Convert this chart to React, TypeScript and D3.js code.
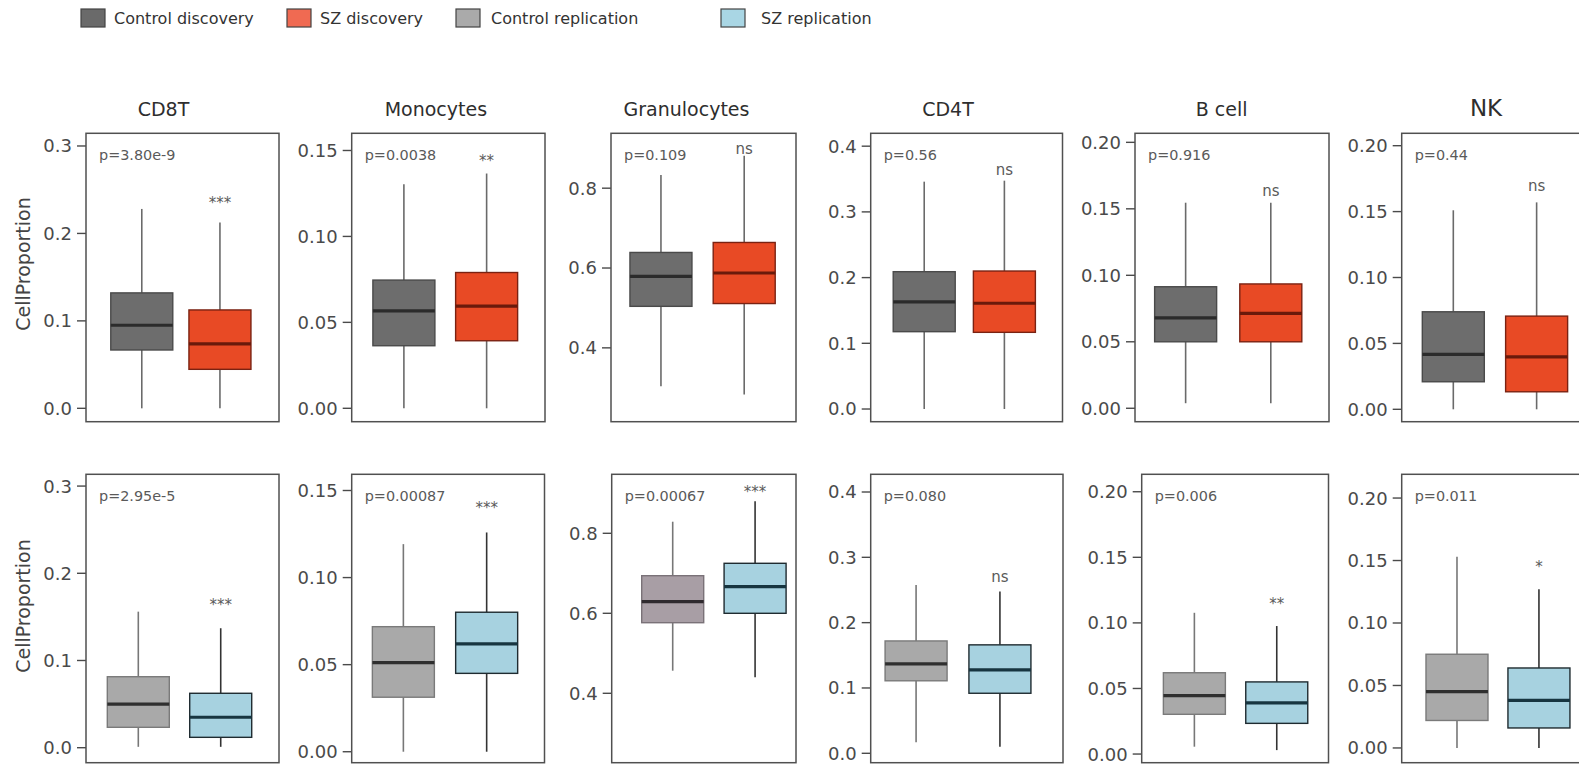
import React from "react";
import * as d3 from "d3";

// ---------- data ----------
const cellTypes = ["CD8T", "Monocytes", "Granulocytes", "CD4T", "B cell", "NK"];
const groups = ["Control", "SZ"];
const legendLabels = ["Control discovery", "SZ discovery", "Control replication", "SZ replication"];

// box stats: [lower whisker, Q1, median, Q3, upper whisker]
const discControl = [
  [0, 0.0667, 0.095, 0.132, 0.228],
  [0, 0.0364, 0.0567, 0.0746, 0.1304],
  [0.304, 0.504, 0.579, 0.639, 0.833],
  [0, 0.1177, 0.163, 0.209, 0.346],
  [0.0038, 0.05, 0.068, 0.0914, 0.1546],
  [0, 0.0209, 0.0417, 0.074, 0.151],
];
const discSZ = [
  [0, 0.0446, 0.0736, 0.1125, 0.2124],
  [0, 0.0393, 0.0595, 0.079, 0.1366],
  [0.283, 0.511, 0.5875, 0.664, 0.881],
  [0, 0.1167, 0.161, 0.21, 0.3475],
  [0.0038, 0.05, 0.0714, 0.0935, 0.1546],
  [0, 0.0133, 0.0398, 0.0707, 0.157],
];
const repControl = [
  [0.001, 0.0234, 0.05, 0.0814, 0.156],
  [0, 0.0313, 0.0512, 0.0718, 0.1192],
  [0.4565, 0.5765, 0.629, 0.694, 0.829],
  [0.0168, 0.111, 0.1368, 0.172, 0.2577],
  [0.0056, 0.0303, 0.0445, 0.062, 0.1077],
  [0, 0.022, 0.045, 0.075, 0.153],
];
const repSZ = [
  [0.001, 0.0119, 0.0349, 0.0624, 0.137],
  [0, 0.045, 0.0619, 0.0801, 0.1259],
  [0.44, 0.6, 0.6665, 0.725, 0.88],
  [0.0102, 0.0919, 0.1276, 0.166, 0.2475],
  [0.003, 0.0234, 0.039, 0.055, 0.0976],
  [0, 0.016, 0.038, 0.064, 0.127],
];

const discP = ["p=3.80e-9", "p=0.0038", "p=0.109", "p=0.56", "p=0.916", "p=0.44"];
const repP = ["p=2.95e-5", "p=0.00087", "p=0.00067", "p=0.080", "p=0.006", "p=0.011"];
const discSig = ["***", "**", "ns", "ns", "ns", "ns"];
const repSig = ["***", "***", "***", "ns", "**", "*"];
const discSigY = [0.235, 0.144, 0.9, 0.364, 0.164, 0.17];
const repSigY = [0.164, 0.14, 0.904, 0.27, 0.115, 0.145];

const discDomain = [
  [-0.0153, 0.3145], [-0.0078, 0.16], [0.215, 0.9375], [-0.0193, 0.4196], [-0.0101, 0.2068], [-0.0094, 0.2094],
];
const repDomain = [
  [-0.0172, 0.3135], [-0.0063, 0.1593], [0.2265, 0.9475], [-0.0144, 0.4271], [-0.0066, 0.2133], [-0.0118, 0.219],
];
const tickValues = [
  [0, 0.1, 0.2, 0.3],
  [0, 0.05, 0.1, 0.15],
  [0.4, 0.6, 0.8],
  [0, 0.1, 0.2, 0.3, 0.4],
  [0, 0.05, 0.1, 0.15, 0.2],
  [0, 0.05, 0.1, 0.15, 0.2],
];
const tickFormats = [".1f", ".2f", ".1f", ".1f", ".2f", ".2f"];

// ---------- layout ----------
const FONT = "'DejaVu Sans', sans-serif";
const rowTop = [133.3, 474.3];
const rowBottom = [421.7, 762.7];
const panelX = [
  [[86, 279], [351.7, 545], [611, 796], [870.7, 1062.5], [1135, 1329], [1401.7, 1595]],
  [[86, 279], [351.7, 544.5], [611.7, 796], [870.7, 1063], [1141.7, 1328.5], [1401.7, 1595]],
];
const boxFrac = [
  [[0.289, 0.694], [0.27, 0.698], [0.27, 0.72], [0.279, 0.697], [0.261, 0.7], [0.267, 0.698]],
  [[0.271, 0.698], [0.268, 0.7], [0.331, 0.778], [0.236, 0.672], [0.282, 0.723], [0.286, 0.71]],
];
const titleDx = [-19, -12.5, -17, -18.6, -10.3, -12.3];
const BOXW = 62;

const styles = {
  discControl: { fill: "#6d6d6d", stroke: "#4a4a4a", median: "#2b2b2b", whisker: "#6a6a6a" },
  discSZ: { fill: "#e84a25", stroke: "#7a2212", median: "#6a1a0b", whisker: "#6a6a6a" },
  repControl: { fill: "#a9a9a9", stroke: "#7a7a7a", median: "#2f2f2f", whisker: "#777777" },
  repControlAlt: { fill: "#a89ea5", stroke: "#7a7278", median: "#2f2a2e", whisker: "#777777" },
  repSZ: { fill: "#a7d2e0", stroke: "#1f2b30", median: "#173540", whisker: "#333333" },
};
const legendFills = ["#6a6a6a", "#f06a52", "#aaaaaa", "#a9d6e4"];
const legendX = [81, 287, 456, 721];
const legendTextDx = [33, 33, 35, 40];

function Box({ x, y, s, st }) {
  const [lo, q1, med, q3, hi] = s;
  return (
    <g>
      <line x1={x} x2={x} y1={y(hi)} y2={y(q3)} stroke={st.whisker} strokeWidth={1.6} />
      <line x1={x} x2={x} y1={y(q1)} y2={y(lo)} stroke={st.whisker} strokeWidth={1.6} />
      <rect x={x - BOXW / 2} y={y(q3)} width={BOXW} height={y(q1) - y(q3)} fill={st.fill} stroke={st.stroke} strokeWidth={1.4} />
      <line x1={x - BOXW / 2} x2={x + BOXW / 2} y1={y(med)} y2={y(med)} stroke={st.median} strokeWidth={3.2} />
    </g>
  );
}

function Panel({ row, i }) {
  const [left, right] = panelX[row][i];
  const top = rowTop[row];
  const bottom = rowBottom[row];
  const w = right - left;
  const domain = row === 0 ? discDomain[i] : repDomain[i];
  const y = d3.scaleLinear().domain(domain).range([bottom, top]);
  const [fa, fb] = boxFrac[row][i];
  const x = d3.scalePoint().domain(groups).range([left + fa * w, left + fb * w]);
  const fmt = d3.format(tickFormats[i]);
  const stats = row === 0 ? [discControl[i], discSZ[i]] : [repControl[i], repSZ[i]];
  const st = row === 0
    ? [styles.discControl, styles.discSZ]
    : [i === 2 ? styles.repControlAlt : styles.repControl, styles.repSZ];
  const p = row === 0 ? discP[i] : repP[i];
  const sig = row === 0 ? discSig[i] : repSig[i];
  const sigY = row === 0 ? discSigY[i] : repSigY[i];
  return (
    <g>
      {row === 0 && (
        <text
          x={(left + right) / 2 + titleDx[i]}
          y={top - 17}
          textAnchor="middle"
          fontFamily={FONT}
          fontSize={i === 5 ? 23 : 19}
          fill="#2e2e2e"
        >
          {cellTypes[i]}
        </text>
      )}
      {tickValues[i].map((t) => (
        <g key={t}>
          <line x1={left - 9} x2={left} y1={y(t)} y2={y(t)} stroke="#4a4a4a" strokeWidth={1.4} />
          <text
            x={left - 14}
            y={y(t)}
            dy="0.36em"
            textAnchor="end"
            fontFamily={FONT}
            fontSize={18}
            fill="#4a4a4a"
          >
            {fmt(t)}
          </text>
        </g>
      ))}
      {groups.map((g, k) => (
        <Box key={g} x={x(g)} y={y} s={stats[k]} st={st[k]} />
      ))}
      <rect x={left} y={top} width={w} height={bottom - top} fill="none" stroke="#505050" strokeWidth={1.5} />
      <text x={left + 13} y={top + 22} dy="0.36em" fontFamily={FONT} fontSize={14.4} fill="#5a5a5a">
        {p}
      </text>
      <text x={x("SZ")} y={y(sigY)} dy="0.36em" textAnchor="middle" fontFamily={FONT} fontSize={15} fill="#5a5a5a">
        {sig}
      </text>
    </g>
  );
}

export default function App() {
  return (
    <svg
      width={1579}
      height={769}
      style={{ position: "absolute", left: 0, top: 0, background: "#fff" }}
    >
      <rect x={0} y={0} width={1579} height={769} fill="#fff" />
      {legendLabels.map((l, k) => (
        <g key={l}>
          <rect x={legendX[k]} y={9} width={24} height={18} fill={legendFills[k]} stroke="#444" strokeWidth={1.2} />
          <text x={legendX[k] + legendTextDx[k]} y={18} dy="0.36em" fontFamily={FONT} fontSize={16} fill="#333">
            {l}
          </text>
        </g>
      ))}
      {[0, 1].map((row) => (
        <text
          key={row}
          transform={`translate(23,${row === 0 ? 264 : 606}) rotate(-90)`}
          textAnchor="middle"
          dy="0.36em"
          fontFamily={FONT}
          fontSize={19}
          fill="#444"
        >
          CellProportion
        </text>
      ))}
      {[0, 1].map((row) => cellTypes.map((c, i) => <Panel key={`${row}-${c}`} row={row} i={i} />))}
    </svg>
  );
}
